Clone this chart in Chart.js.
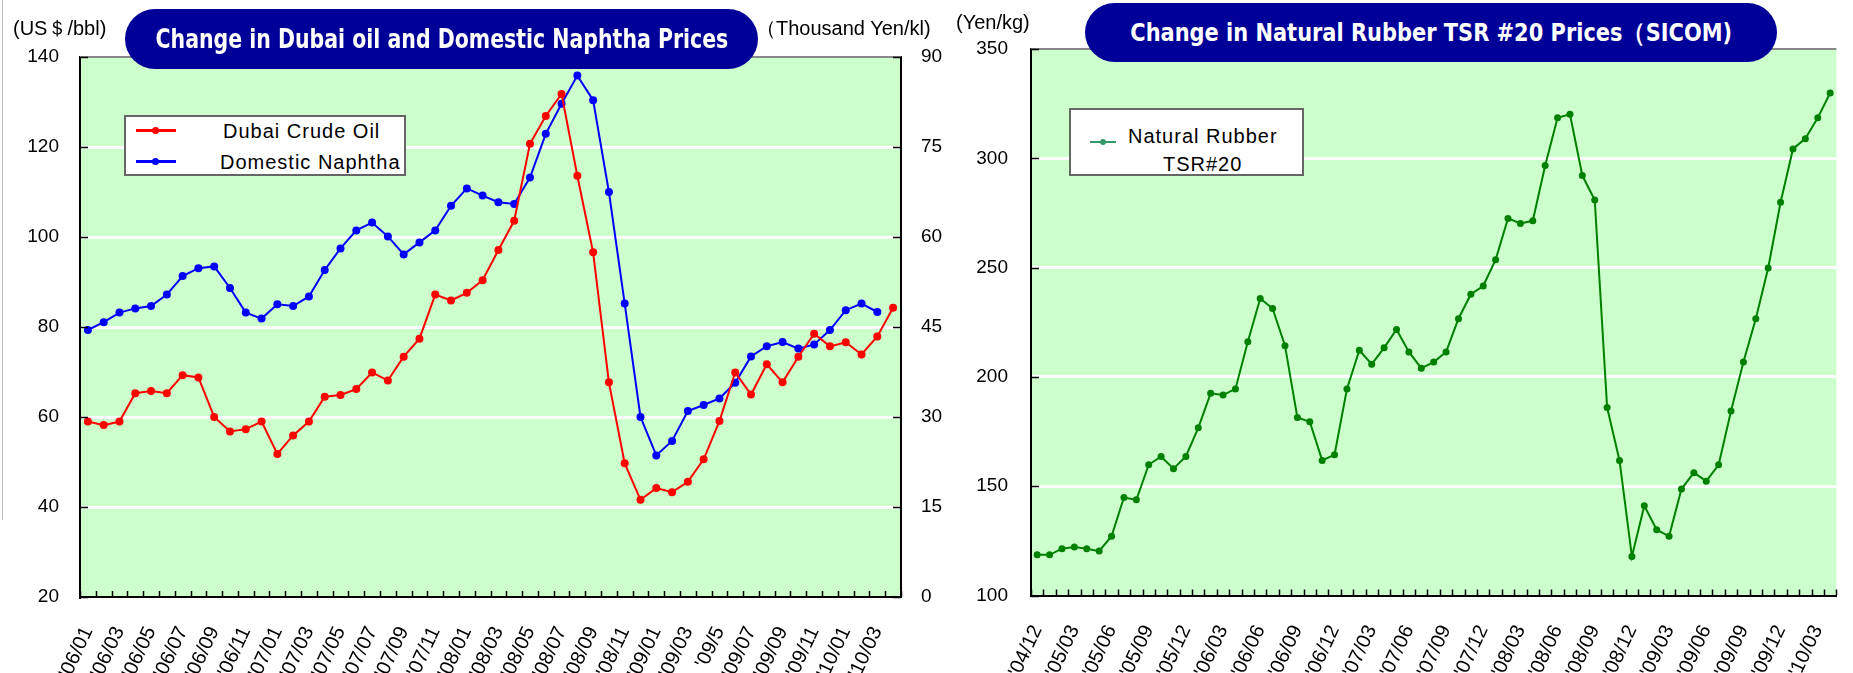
<!DOCTYPE html>
<html>
<head>
<meta charset="utf-8">
<script src="https://cdn.jsdelivr.net/npm/chart.js@4.4.1/dist/chart.umd.min.js"></script>
<style>
  html, body { margin: 0; padding: 0; width: 1853px; height: 673px; overflow: hidden; background: #fff; }
  body { position: relative; font-family: 'Liberation Sans', Arial, sans-serif; color: #000; }
  .wrap { position: absolute; top: 0; }
  .title { position: absolute; background: #000099; color: #fff; display: flex;
           align-items: center; justify-content: center; white-space: nowrap;
           font-family: 'Liberation Sans Narrow', 'DejaVu Sans Condensed', 'Liberation Sans', sans-serif; font-weight: bold; }
  .title span { display: inline-block; transform-origin: center; }
  .unit { position: absolute; font-size: 20px; line-height: 20px; white-space: nowrap; }
  .legend { position: absolute; background: #fff; border: 2px solid #666; box-sizing: border-box; }
  .legend .sw { position: absolute; height: 3px; }
  .legend .dot { position: absolute; width: 7px; height: 7px; border-radius: 50%; }
  .legend .txt { position: absolute; font-size: 20px; line-height: 20px; letter-spacing: 1px; white-space: nowrap; }
  .edge { position: absolute; left: 2px; top: 0; width: 1px; height: 520px; background: #bbb; }
</style>
</head>
<body>
<div class="edge"></div>
<div class="wrap" style="left:0"><canvas id="oil" width="960" height="673"></canvas></div>
<div class="wrap" style="left:930px"><canvas id="rubber" width="940" height="673"></canvas></div>

<div class="unit" style="left:13px; top:18px">(US＄/bbl)</div>
<div class="unit" style="left:756px; top:18px">（Thousand Yen/kl)</div>
<div class="unit" style="left:956px; top:12px">(Yen/kg)</div>

<div class="title" id="t1" style="left:125px; top:9px; width:633px; height:60px; border-radius:30px; font-size:26px">
  <span>Change in Dubai oil and Domestic Naphtha Prices</span></div>
<div class="title" id="t2" style="left:1085px; top:3px; width:692px; height:59px; border-radius:30px; font-size:25px">
  <span>Change in Natural Rubber TSR #20 Prices（SICOM)</span></div>

<div class="legend" style="left:124px; top:115px; width:282px; height:61px">
  <div class="sw" style="left:10px; top:12px; width:40px; background:#FF0000"></div>
  <div class="dot" style="left:26px; top:10px; background:#FF0000"></div>
  <div class="txt" style="left:97px; top:4px">Dubai Crude Oil</div>
  <div class="sw" style="left:10px; top:43px; width:40px; background:#0000FF"></div>
  <div class="dot" style="left:26px; top:41px; background:#0000FF"></div>
  <div class="txt" style="left:94px; top:35px">Domestic Naphtha</div>
</div>

<div class="legend" style="left:1069px; top:108px; width:235px; height:68px">
  <div class="sw" style="left:19px; top:31px; width:26px; height:2px; background:#339966"></div>
  <div class="dot" style="left:29px; top:29px; width:6px; height:6px; background:#339966"></div>
  <div class="txt" style="left:57px; top:16px">Natural Rubber</div>
  <div class="txt" style="left:92px; top:44px">TSR#20</div>
</div>

<script>
// Dubai crude / domestic naphtha, monthly from Jan 2006
const leftMonths = [
  "'06/01","'06/02","'06/03","'06/04","'06/05","'06/06","'06/07","'06/08","'06/09","'06/10","'06/11","'06/12",
  "'07/01","'07/02","'07/03","'07/04","'07/05","'07/06","'07/07","'07/08","'07/09","'07/10","'07/11","'07/12",
  "'08/01","'08/02","'08/03","'08/04","'08/05","'08/06","'08/07","'08/08","'08/09","'08/10","'08/11","'08/12",
  "'09/01","'09/02","'09/03","'09/04","'09/05","'09/06","'09/07","'09/08","'09/09","'09/10","'09/11","'09/12",
  "'10/01","'10/02","'10/03","'10/04"
];
const leftTickLabels = [
  "'06/01","'06/03","'06/05","'06/07","'06/09","'06/11","'07/01","'07/03","'07/05","'07/07","'07/09","'07/11",
  "'08/01","'08/03","'08/05","'08/07","'08/09","'08/11","'09/01","'09/03","'09/5","'09/07","'09/09","'09/11",
  "'10/01","'10/03"
];
// US$/bbl (left axis)
const dubaiCrude = [
  59.0, 58.2, 59.0, 65.3, 65.8, 65.3, 69.3, 68.8, 60.0, 56.8,
  57.3, 59.0, 51.8, 55.9, 59.0, 64.5, 64.9, 66.2, 69.9, 68.1,
  73.4, 77.4, 87.2, 85.9, 87.6, 90.4, 97.1, 103.6, 120.7, 126.9,
  131.8, 113.6, 96.6, 67.7, 49.7, 41.6, 44.2, 43.3, 45.6, 50.6,
  59.1, 69.9, 65.0, 71.7, 67.7, 73.4, 78.5, 75.7, 76.6, 73.9,
  77.9, 84.3
];
// thousand yen/kl (right axis)
const domesticNaphtha = [
  44.5, 45.8, 47.4, 48.1, 48.5, 50.4, 53.5, 54.8, 55.1, 51.5,
  47.4, 46.4, 48.8, 48.5, 50.1, 54.5, 58.1, 61.1, 62.4, 60.1,
  57.1, 59.1, 61.1, 65.2, 68.1, 66.9, 65.8, 65.5, 69.9, 77.2,
  82.2, 86.9, 82.8, 67.5, 48.9, 30.0, 23.6, 26.0, 31.0, 32.0,
  33.1, 35.7, 40.1, 41.8, 42.5, 41.4, 42.1, 44.5, 47.8, 48.9,
  47.5
];

// Natural rubber TSR#20 (SICOM), monthly from Dec 2004
const rubberMonths = [
  "'04/12",
  "'05/01","'05/02","'05/03","'05/04","'05/05","'05/06","'05/07","'05/08","'05/09","'05/10","'05/11","'05/12",
  "'06/01","'06/02","'06/03","'06/04","'06/05","'06/06","'06/07","'06/08","'06/09","'06/10","'06/11","'06/12",
  "'07/01","'07/02","'07/03","'07/04","'07/05","'07/06","'07/07","'07/08","'07/09","'07/10","'07/11","'07/12",
  "'08/01","'08/02","'08/03","'08/04","'08/05","'08/06","'08/07","'08/08","'08/09","'08/10","'08/11","'08/12",
  "'09/01","'09/02","'09/03","'09/04","'09/05","'09/06","'09/07","'09/08","'09/09","'09/10","'09/11","'09/12",
  "'10/01","'10/02","'10/03","'10/04"
];
const rubberTickLabels = [
  "'04/12","'05/03","'05/06","'05/09","'05/12","'06/03","'06/06","'06/09","'06/12","'07/03","'07/06",
  "'07/09","'07/12","'08/03","'08/06","'08/09","'08/12","'09/03","'09/06","'09/09","'09/12","'10/03"
];
// yen/kg
const naturalRubber = [
  118.6, 118.6, 121.4, 122.2, 121.4, 120.3, 127.1, 144.8, 143.8, 159.8,
  163.6, 158.0, 163.6, 176.7, 192.5, 191.7, 194.5, 216.1, 235.9, 231.3,
  214.3, 181.4, 179.5, 161.8, 164.4, 194.5, 212.2, 205.8, 213.3, 221.7,
  211.4, 204.0, 206.8, 211.4, 226.6, 237.8, 241.6, 253.6, 272.5, 270.2,
  271.4, 296.7, 318.5, 320.1, 292.1, 280.9, 186.0, 161.8, 117.8, 141.0,
  130.1, 127.1, 148.7, 156.2, 152.3, 159.8, 184.4, 206.8, 226.6, 249.8,
  279.9, 304.3, 309.0, 318.5, 329.9
];

const PLOT_BG = '#CCFFCC';
const TICK_FONT = { family: "'Liberation Sans', Arial, sans-serif", size: 19 };
const X_FONT = { family: "'Liberation Sans', Arial, sans-serif", size: 20 };

// green plot background, grey top frame, short inward tick marks
const framePlugin = {
  id: 'frame',
  beforeDraw(chart) {
    const { ctx, chartArea: a } = chart;
    ctx.save();
    ctx.fillStyle = PLOT_BG;
    ctx.fillRect(a.left, a.top, a.right - a.left, a.bottom - a.top);
    ctx.restore();
  },
  afterDraw(chart) {
    const { ctx, chartArea: a, scales } = chart;
    ctx.save();
    ctx.strokeStyle = '#888';
    ctx.lineWidth = 2;
    ctx.beginPath();
    ctx.moveTo(a.left, a.top);
    ctx.lineTo(a.right, a.top);
    ctx.stroke();

    ctx.strokeStyle = '#000';
    ctx.lineWidth = 1.5;
    ctx.beginPath();
    const xs = scales.x;
    for (let i = 0; i <= xs.getLabels().length; i++) {
      const px = Math.round(xs.getPixelForValue(i - 0.5)) + 0.5;
      ctx.moveTo(px, a.bottom);
      ctx.lineTo(px, a.bottom - 6);
    }
    ['y', 'y1'].forEach(id => {
      const s = scales[id];
      if (!s) return;
      const left = s.position === 'left';
      const x0 = left ? a.left : a.right;
      s.ticks.forEach(t => {
        const py = Math.round(s.getPixelForValue(t.value)) + 0.5;
        ctx.moveTo(x0, py);
        ctx.lineTo(x0 + (left ? 8 : -8), py);
      });
    });
    ctx.stroke();
    ctx.restore();
  }
};

function xAxis(tickLabels, every, height) {
  return {
    offset: true,
    grid: { display: false },
    border: { display: true, color: '#000', width: 2 },
    ticks: {
      autoSkip: false, minRotation: 65, maxRotation: 65, padding: 18,
      color: '#000', font: X_FONT,
      callback: (v, i) => (i % every === 0 ? tickLabels[i / every] : ''),
    },
    afterFit: s => { s.height = height; },
  };
}

function gridColor(lo, hi) {
  return c => (c.tick.value === lo || c.tick.value === hi) ? 'rgba(0,0,0,0)' : '#fff';
}

const line = (color, r) => ({
  borderColor: color, backgroundColor: color, pointBackgroundColor: color,
  borderWidth: 2, pointRadius: r, pointBorderWidth: 0, pointHoverRadius: r, tension: 0,
});

new Chart(document.getElementById('oil'), {
  type: 'line',
  data: {
    labels: leftMonths,
    datasets: [
      { label: 'Dubai Crude Oil', data: dubaiCrude, yAxisID: 'y', ...line('#FF0000', 4) },
      { label: 'Domestic Naphtha', data: domesticNaphtha, yAxisID: 'y1', ...line('#0000FF', 4) },
    ],
  },
  options: {
    responsive: false, animation: false, devicePixelRatio: 1,
    layout: { padding: { top: 57, left: 0, right: 0, bottom: 0 } },
    plugins: { legend: { display: false }, tooltip: { enabled: false } },
    scales: {
      x: xAxis(leftTickLabels, 2, 76),
      y: {
        position: 'left', min: 20, max: 140,
        ticks: { stepSize: 20, padding: 21, color: '#000', font: TICK_FONT },
        grid: { drawTicks: false, color: gridColor(20, 140), lineWidth: 3 },
        border: { color: '#000', width: 2 },
        afterFit: s => { s.width = 80; },
      },
      y1: {
        position: 'right', min: 0, max: 90,
        ticks: { stepSize: 15, padding: 20, color: '#000', font: TICK_FONT },
        grid: { display: false, drawTicks: false },
        border: { color: '#000', width: 2 },
        afterFit: s => { s.width = 59; },
      },
    },
  },
  plugins: [framePlugin],
});

new Chart(document.getElementById('rubber'), {
  type: 'line',
  data: {
    labels: rubberMonths,
    datasets: [
      { label: 'Natural Rubber TSR#20', data: naturalRubber, yAxisID: 'y', ...line('#008000', 3.5) },
    ],
  },
  options: {
    responsive: false, animation: false, devicePixelRatio: 1,
    layout: { padding: { top: 49, left: 0, right: 13, bottom: 0 } },
    plugins: { legend: { display: false }, tooltip: { enabled: false } },
    scales: {
      x: xAxis(rubberTickLabels, 3, 77.5),
      y: {
        position: 'left', min: 100, max: 350,
        ticks: { stepSize: 50, padding: 23, color: '#000', font: TICK_FONT },
        grid: { drawTicks: false, color: gridColor(100, 350), lineWidth: 3 },
        border: { color: '#000', width: 2 },
        afterFit: s => { s.width = 101; },
      },
    },
  },
  plugins: [framePlugin],
});

// squeeze the title text to the width it has in the original
function fitTitle(id, width) {
  const sp = document.querySelector('#' + id + ' span');
  const w = sp.getBoundingClientRect().width;
  sp.style.transform = 'scaleX(' + (width / w).toFixed(3) + ')';
}
fitTitle('t1', 573);
fitTitle('t2', 602);
</script>
</body>
</html>
